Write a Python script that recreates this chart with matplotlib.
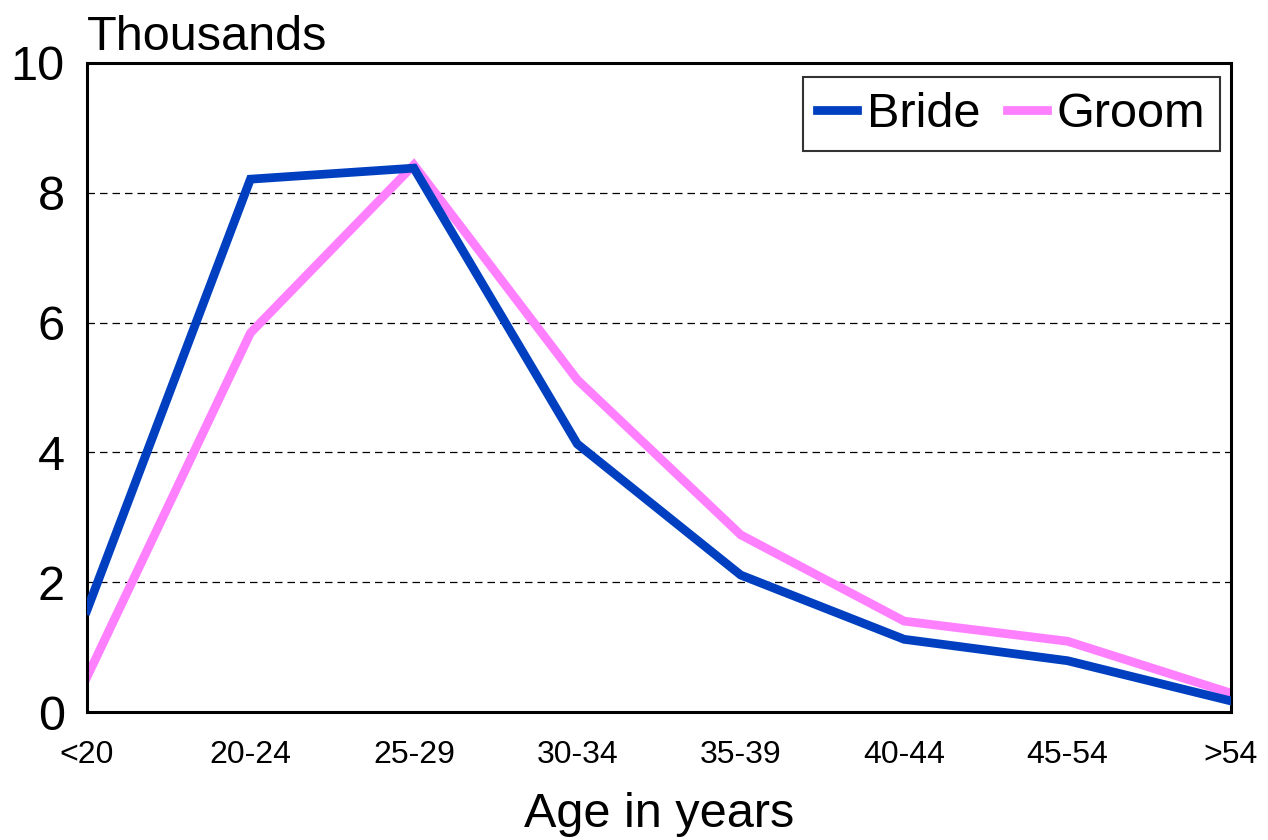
import matplotlib
matplotlib.use("Agg")
import matplotlib.pyplot as plt

categories = ["<20", "20-24", "25-29", "30-34", "35-39", "40-44", "45-54", ">54"]
bride = [1.57, 8.21, 8.38, 4.13, 2.11, 1.12, 0.79, 0.17]
groom = [0.54, 5.84, 8.43, 5.12, 2.73, 1.40, 1.09, 0.29]
yticks = [0, 2, 4, 6, 8, 10]

plt.rcParams['font.family'] = ['Liberation Sans', 'DejaVu Sans']

fig = plt.figure(figsize=(12.68, 8.40), dpi=100)
ax = fig.add_axes([87/1268, 1-712/840, (1231-87)/1268, (712-63)/840])

x = list(range(len(categories)))
ax.plot(x, bride, color="#0040C0", lw=6.3, label="Bride", solid_joinstyle="miter", zorder=3)
ax.plot(x, groom, color="#FF80FF", lw=6.3, label="Groom", solid_joinstyle="miter", zorder=2)

ax.set_xlim(0, len(categories) - 1)
ax.set_ylim(0, 10)
ax.set_yticks(yticks)
ax.set_yticklabels([str(v) for v in yticks], fontsize=35)
ax.set_xticks(x)
ax.set_xticklabels(categories, fontsize=23)
ax.tick_params(axis="both", length=0)
ax.tick_params(axis="y", pad=16)
ax.tick_params(axis="x", pad=20)

for v in yticks[1:-1]:
    ax.axhline(v, color="black", lw=0.9, ls=(0, (6, 4)), zorder=1)

for s in ax.spines.values():
    s.set_linewidth(2.2)

ax.set_xlabel("Age in years", fontsize=35, labelpad=16)
ax.text(0.0, 1.005, "Thousands", transform=ax.transAxes, fontsize=35,
        ha="left", va="bottom")

leg = ax.legend(loc="upper right", ncol=2, fontsize=35, frameon=True, fancybox=False,
                edgecolor="black", handlelength=0.82, handletextpad=0.2,
                columnspacing=0.55, borderpad=0.3, borderaxespad=0,
                bbox_to_anchor=(1 - 11/1144, 1 - 14/649))
leg.get_frame().set_linewidth(1.5)

fig.savefig("out.png", dpi=100)
